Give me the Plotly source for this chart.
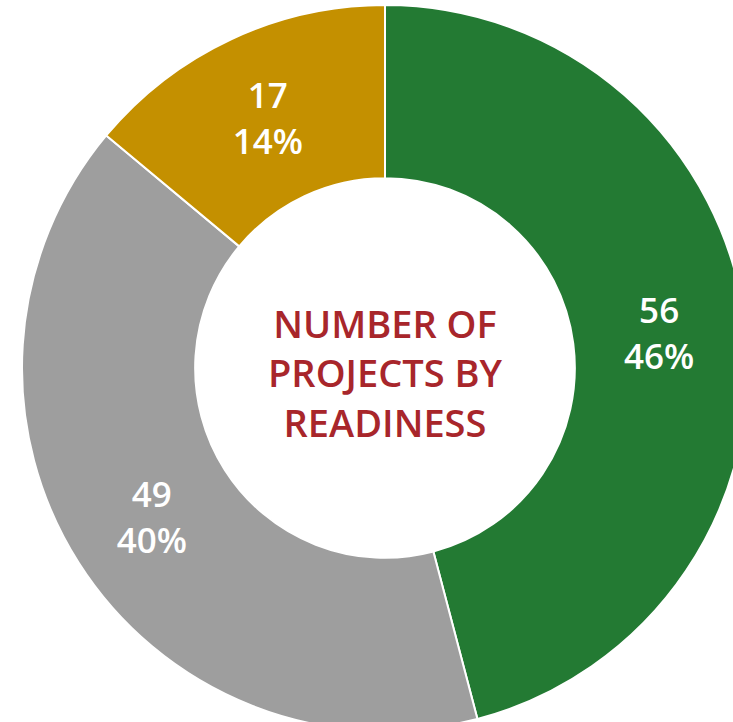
import plotly.graph_objects as go

categories = ["Ready", "Not ready", "Partially ready"]
values = [56, 49, 17]
colors = ["#237A33", "#9E9E9E", "#C49000"]
center_title = "NUMBER OF<br>PROJECTS BY<br>READINESS"

W, H = 770, 736

fig = go.Figure(
    go.Pie(
        labels=categories,
        values=values,
        hole=0.523,
        sort=False,
        direction="clockwise",
        rotation=0,
        marker=dict(colors=colors, line=dict(color="white", width=2)),
        texttemplate="%{value}<br>%{percent:.0%}",
        textposition="inside",
        insidetextorientation="horizontal",
        textfont=dict(family="Open Sans, Noto Sans, sans-serif", size=35, color="white", weight=600),
        showlegend=False,
        hoverinfo="label+value+percent",
        domain=dict(x=[0, 1], y=[5 / H, (H - 5) / H]),
    )
)

fig.add_annotation(
    text=center_title,
    x=0.5, y=(H - 372) / H, xref="paper", yref="paper",
    xanchor="center", yanchor="middle",
    showarrow=False,
    font=dict(family="Open Sans, Noto Sans, sans-serif", size=38, color="#A8262B", weight=600),
    align="center",
)

fig.update_layout(
    width=W, height=H,
    margin=dict(l=0, r=0, t=0, b=0),
    paper_bgcolor="white",
    plot_bgcolor="white",
    uniformtext=dict(minsize=10, mode="show"),
)

fig.write_html(
    "out.html",
    config={"displayModeBar": False},
    post_script="document.body.style.margin='0';document.body.style.overflow='hidden';document.documentElement.style.overflow='hidden';",
)
